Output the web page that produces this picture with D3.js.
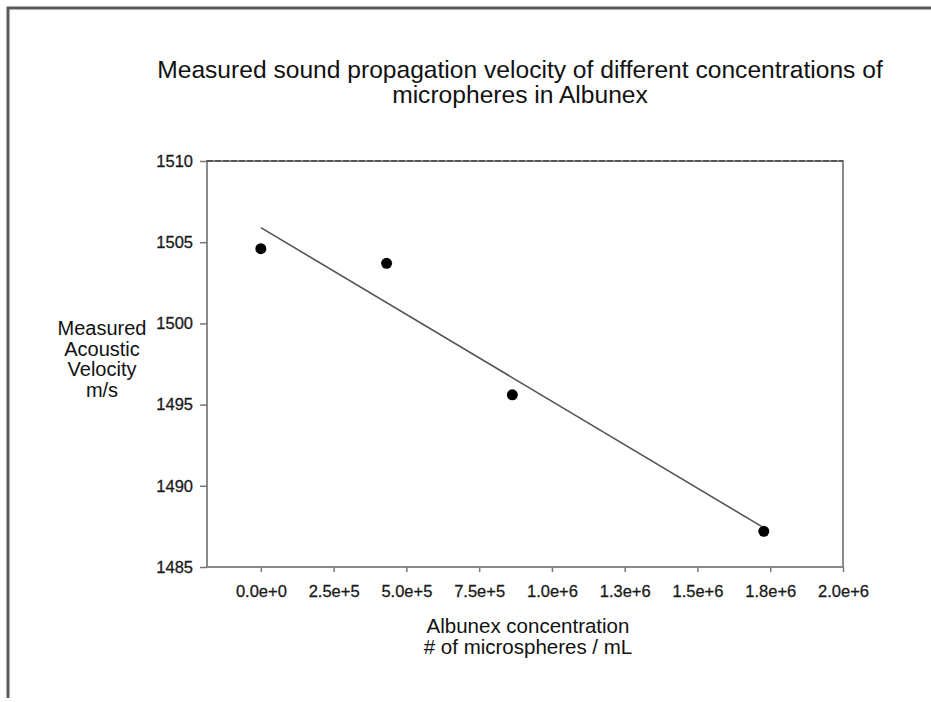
<!DOCTYPE html>
<html>
<head>
<meta charset="utf-8">
<script src="https://cdn.jsdelivr.net/npm/d3@7"></script>
<style>
  body { margin: 0; background: #fff; }
  svg { display: block; font-family: "Liberation Sans", Arial, sans-serif; }
</style>
</head>
<body>
<script>
// measured points (concentration in microspheres/mL, velocity in m/s)
const concentration = [0, 432000, 864000, 1728000];
const velocity = [1504.6, 1503.7, 1495.6, 1487.2];

// fitted line end points
const fitX = [0, 1720000];
const fitY = [1505.9, 1487.5];

const xTicks = [0, 250000, 500000, 750000, 1000000, 1250000, 1500000, 1750000, 2000000];
const xTickLabels = ["0.0e+0", "2.5e+5", "5.0e+5", "7.5e+5", "1.0e+6", "1.3e+6", "1.5e+6", "1.8e+6", "2.0e+6"];
const yTicks = [1485, 1490, 1495, 1500, 1505, 1510];

const titleLines = ["Measured sound propagation velocity of different concentrations of", "micropheres in Albunex"];
const yLabelLines = ["Measured", "Acoustic", "Velocity", "m/s"];
const xLabelLines = ["Albunex concentration", "# of microspheres / mL"];

const W = 931, H = 702;
const margin = {top: 161, left: 207, right: W - 843, bottom: H - 567};
const width = W - margin.left - margin.right;
const height = H - margin.top - margin.bottom;

const svg = d3.select("body").append("svg").attr("width", W).attr("height", H);

// outer frame (left + top edge only, like the scan)
svg.append("path")
  .attr("d", `M8,${H - 4}V8H${W}`)
  .attr("fill", "none").attr("stroke", "#5a5a5a").attr("stroke-width", 3);

const x = d3.scaleLinear().domain([-185000, 2000000]).range([0, width]);
const y = d3.scaleLinear().domain([1485, 1510]).range([height, 0]);

const g = svg.append("g").attr("transform", `translate(${margin.left},${margin.top})`);

// frame of the plot area
g.append("rect").attr("width", width).attr("height", height)
  .attr("fill", "none").attr("stroke", "#8a8a8a").attr("stroke-width", 2);
g.append("line").attr("x2", width).attr("stroke", "#444").attr("stroke-width", 1.5)
  .attr("stroke-dasharray", "6,2");

const xAxis = g.append("g").attr("transform", `translate(0,${height})`)
  .call(d3.axisBottom(x).tickValues(xTicks).tickSize(5).tickPadding(13)
    .tickFormat((d, i) => xTickLabels[i]));
const yAxis = g.append("g")
  .call(d3.axisLeft(y).tickValues(yTicks).tickSize(7).tickPadding(7).tickFormat(d3.format("d")));

[xAxis, yAxis].forEach(a => {
  a.select(".domain").remove();
  a.selectAll(".tick line").attr("stroke", "#777").attr("stroke-width", 1.5);
  a.selectAll(".tick text").attr("fill", "#1a1a1a").style("font-size", "16.5px")
    .attr("stroke", "#1a1a1a").attr("stroke-width", 0.3);
});

// regression line
g.append("line")
  .attr("x1", x(fitX[0])).attr("y1", y(fitY[0]))
  .attr("x2", x(fitX[1])).attr("y2", y(fitY[1]))
  .attr("stroke", "#555").attr("stroke-width", 1.6);

g.selectAll("circle")
  .data(concentration)
  .enter()
  .append("circle")
  .attr("cx", d => x(d))
  .attr("cy", (d, i) => y(velocity[i]))
  .attr("r", 5.5)
  .attr("fill", "#000");

// title
svg.append("text").attr("x", 520).attr("y", 78).attr("text-anchor", "middle")
  .style("font-size", "24.6px").attr("fill", "#111")
  .selectAll("tspan").data(titleLines).enter().append("tspan")
  .attr("x", 520).attr("dy", (d, i) => i ? 25 : 0).text(d => d);

svg.append("text").attr("x", 102).attr("y", 335).attr("text-anchor", "middle")
  .style("font-size", "20px").attr("fill", "#111")
  .selectAll("tspan").data(yLabelLines).enter().append("tspan")
  .attr("x", 102).attr("dy", (d, i) => i ? 20.5 : 0).text(d => d);

svg.append("text").attr("x", 528).attr("y", 633).attr("text-anchor", "middle")
  .style("font-size", "20.5px").attr("fill", "#111")
  .selectAll("tspan").data(xLabelLines).enter().append("tspan")
  .attr("x", 528).attr("dy", (d, i) => i ? 21 : 0).text(d => d);
</script>
</body>
</html>
